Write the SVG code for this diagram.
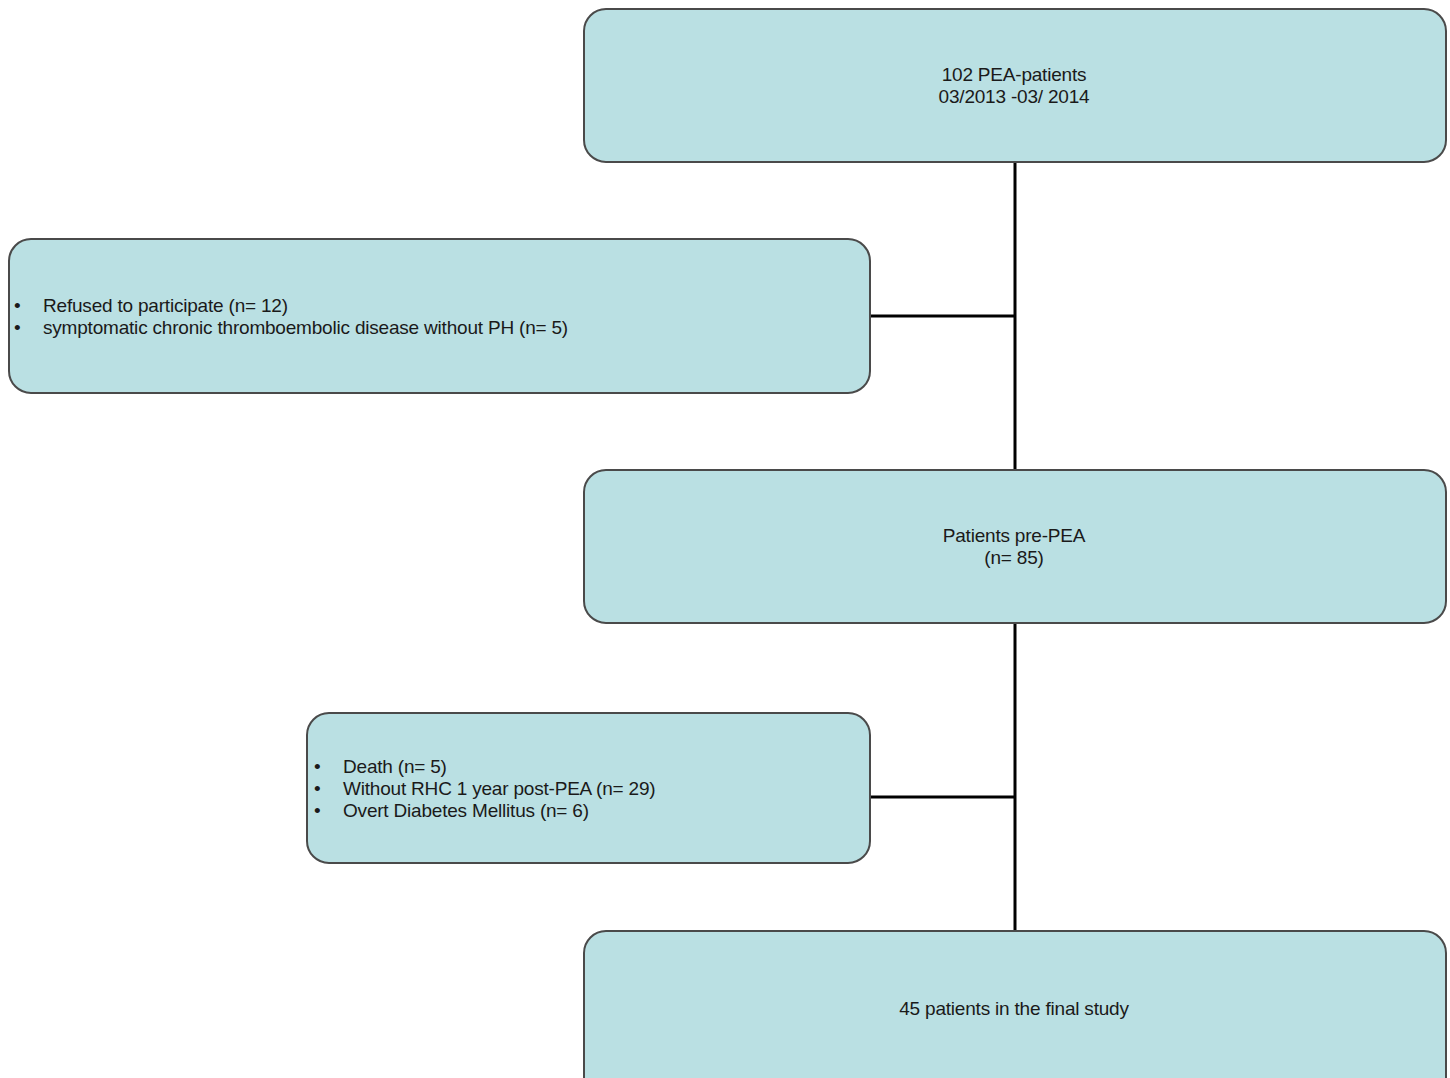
<svg xmlns="http://www.w3.org/2000/svg" width="1450" height="1078" viewBox="0 0 1450 1078">
<style>
.box{fill:#BAE0E3;stroke:#4a4a4a;stroke-width:2}
.t{font-family:"Liberation Sans",Arial,sans-serif;font-size:19px;fill:#1a1a1a;letter-spacing:-0.2px}
.c{text-anchor:middle}
.ln{stroke:#000;stroke-width:3;fill:none}
</style>
<rect width="1450" height="1078" fill="#fff"/>
<g id="connectors">
<line class="ln" x1="1015" y1="162" x2="1015" y2="470"/>
<line class="ln" x1="870" y1="316" x2="1015" y2="316"/>
<line class="ln" x1="1015" y1="623" x2="1015" y2="931"/>
<line class="ln" x1="870" y1="797" x2="1015" y2="797"/>
</g>
<g id="n1">
<rect class="box" x="584" y="9" width="862" height="153" rx="22"/>
<text class="t c" x="1014" y="81">102 PEA-patients</text>
<text class="t c" x="1014" y="103">03/2013 -03/ 2014</text>
</g>
<g id="n2">
<rect class="box" x="9" y="239" width="861" height="154" rx="22"/>
<text class="t" x="14" y="312">•</text>
<text class="t" x="43" y="312">Refused to participate (n= 12)</text>
<text class="t" x="14" y="334">•</text>
<text class="t" x="43" y="334">symptomatic chronic thromboembolic disease without PH (n= 5)</text>
</g>
<g id="n3">
<rect class="box" x="584" y="470" width="862" height="153" rx="22"/>
<text class="t c" x="1014" y="542">Patients pre-PEA</text>
<text class="t c" x="1014" y="564">(n= 85)</text>
</g>
<g id="n4">
<rect class="box" x="307" y="713" width="563" height="150" rx="22"/>
<text class="t" x="314" y="773">•</text>
<text class="t" x="343" y="773">Death (n= 5)</text>
<text class="t" x="314" y="795">•</text>
<text class="t" x="343" y="795">Without RHC 1 year post-PEA (n= 29)</text>
<text class="t" x="314" y="817">•</text>
<text class="t" x="343" y="817">Overt Diabetes Mellitus (n= 6)</text>
</g>
<g id="n5">
<rect class="box" x="584" y="931" width="862" height="170" rx="22"/>
<text class="t c" x="1014" y="1015">45 patients in the final study</text>
</g>
</svg>
